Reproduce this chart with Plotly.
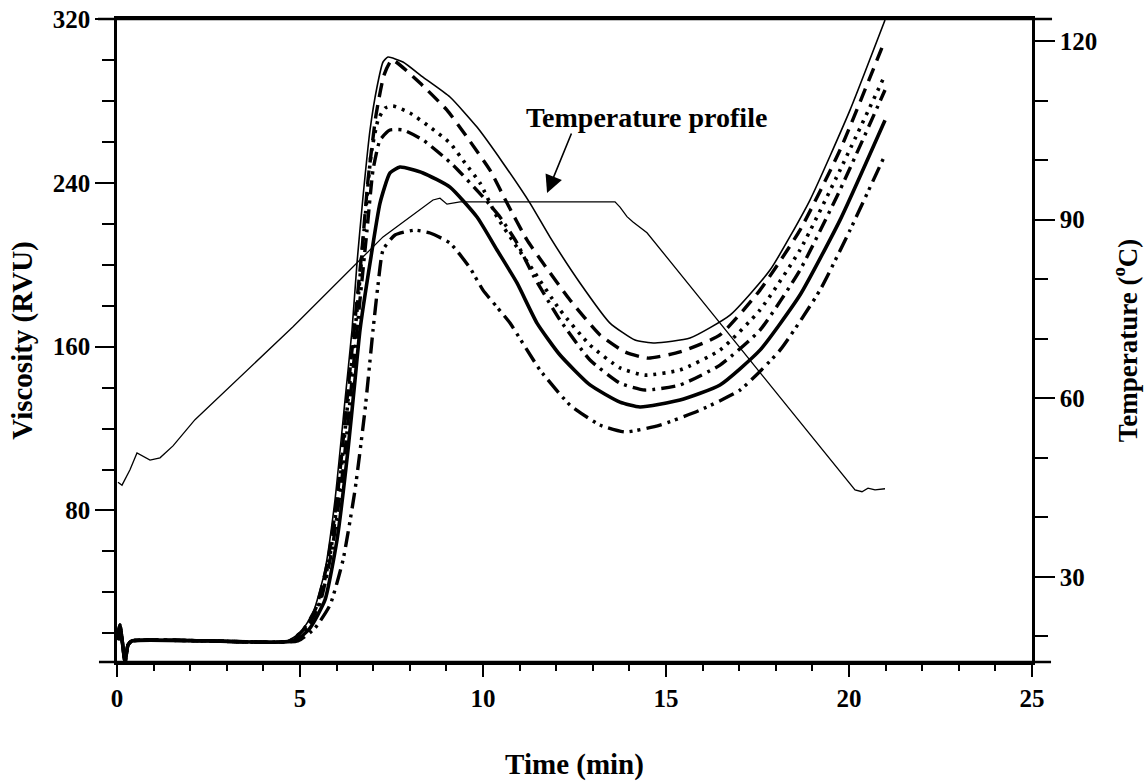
import plotly.graph_objects as go

# ---------------- data ----------------
# common start of every viscosity trace (spike + flat baseline)
base_t = [0.03, 0.08, 0.14, 0.22, 0.30, 0.41, 2.5]
base_v = [16.7, 24.1, 16.7, 6.0, 14.3, 16.3, 16.3]

s1_t = [4.645, 5.0, 5.355, 5.683, 5.956, 6.230, 6.421, 6.557, 6.721, 6.913, 7.104, 7.268, 7.404, 7.814, 8.361, 9.098, 9.836, 10.546, 11.284, 11.831, 12.650, 13.470, 14.153, 14.699, 15.656, 16.749, 17.842, 18.934, 20.027, 20.984]
s1_v = [16.3, 20.2, 29.9, 50.9, 85.1, 133.9, 168.1, 200.8, 233.1, 265.8, 286.8, 299.0, 301.4, 299.0, 291.6, 281.9, 267.2, 249.7, 230.1, 213.5, 191.1, 171.5, 163.2, 161.8, 164.2, 175.4, 197.4, 231.6, 275.5, 319.5]

s2_t = [4.727, 5.082, 5.437, 5.765, 6.038, 6.311, 6.503, 6.694, 6.858, 7.077, 7.295, 7.514, 8.279, 9.016, 9.563, 10.191, 10.656, 11.202, 11.639, 12.377, 13.197, 13.880, 14.508, 15.383, 16.475, 17.568, 18.661, 19.754, 20.984]
s2_v = [16.3, 21.6, 32.4, 55.8, 90.0, 138.8, 173.0, 207.2, 241.3, 273.1, 292.6, 300.0, 288.7, 275.5, 262.3, 246.2, 230.1, 212.1, 200.8, 182.8, 165.7, 157.4, 154.4, 157.4, 165.7, 187.6, 216.9, 256.0, 309.7]

s3_t = [4.727, 5.137, 5.492, 5.820, 6.093, 6.366, 6.585, 6.776, 6.940, 7.131, 7.322, 7.541, 8.005, 8.552, 9.098, 9.508, 9.918, 10.383, 10.929, 11.366, 12.104, 12.923, 13.743, 14.426, 15.383, 16.475, 17.568, 18.661, 19.754, 20.984]
s3_v = [16.3, 22.6, 33.8, 58.2, 94.9, 143.7, 182.8, 221.8, 253.6, 270.6, 276.5, 277.5, 274.1, 267.2, 259.4, 249.7, 239.9, 223.3, 208.6, 197.4, 177.9, 160.8, 149.6, 146.1, 148.6, 158.3, 177.9, 207.2, 246.2, 292.6]

s4_t = [4.781, 5.191, 5.546, 5.874, 6.175, 6.421, 6.639, 6.831, 6.995, 7.186, 7.459, 7.814, 8.361, 9.180, 10.0, 10.464, 10.929, 11.366, 12.104, 12.923, 13.743, 14.426, 15.383, 16.475, 17.568, 18.661, 19.754, 20.984]
s4_v = [16.3, 22.6, 34.8, 60.7, 99.8, 143.7, 182.8, 216.9, 246.2, 260.9, 265.8, 265.8, 260.9, 248.7, 233.1, 223.3, 210.6, 195.0, 173.0, 153.5, 142.2, 138.8, 141.3, 151.0, 168.1, 197.4, 236.5, 285.3]

s5_t = [4.863, 5.273, 5.683, 6.011, 6.311, 6.503, 6.639, 6.913, 7.186, 7.459, 7.732, 8.361, 9.098, 9.836, 10.383, 10.929, 11.475, 12.104, 12.923, 13.743, 14.290, 15.383, 16.475, 17.568, 18.661, 19.754, 20.984]
s5_v = [16.3, 22.6, 36.3, 65.6, 109.5, 143.7, 168.1, 200.8, 230.1, 244.8, 247.7, 244.8, 237.9, 223.3, 207.2, 191.1, 171.5, 155.9, 141.3, 132.9, 130.5, 133.9, 141.3, 158.3, 185.2, 221.8, 270.6]

s6_t = [4.945, 5.410, 5.820, 6.175, 6.503, 6.776, 6.995, 7.131, 7.268, 7.596, 8.142, 8.552, 9.098, 9.645, 10.0, 10.383, 10.738, 11.557, 12.377, 13.197, 13.880, 14.836, 15.929, 17.022, 18.115, 19.208, 20.027, 20.984]
s6_v = [16.3, 22.6, 33.8, 55.8, 90.0, 129.0, 168.1, 190.1, 207.2, 214.5, 216.9, 215.5, 210.6, 198.4, 187.6, 179.3, 171.5, 148.6, 131.5, 121.7, 118.3, 121.7, 129.0, 138.8, 158.3, 187.6, 216.9, 253.6]

temp_t = [0.027, 0.137, 0.355, 0.546, 0.902, 1.175, 1.530, 2.131, 4.809, 7.268, 8.634, 8.825, 9.016, 9.372, 13.607, 13.743, 13.934, 14.098, 14.481, 20.164, 20.355, 20.519, 20.710, 20.984]
temp_c = [45.9, 45.4, 48.0, 50.8, 49.6, 50.0, 52.0, 56.4, 72.0, 87.1, 93.3, 93.6, 92.6, 93.0, 93.0, 92.1, 90.5, 89.6, 87.8, 44.6, 44.3, 44.9, 44.6, 44.8]

x_ticks = [0, 5, 10, 15, 20, 25]
visc_ticks = [80, 160, 240, 320]
temp_ticks = [30, 60, 90, 120]

FONT = "Liberation Serif, Times New Roman, serif"

series = [
    (s1_t, s1_v, dict(width=1.6, dash="solid")),
    (s2_t, s2_v, dict(width=3.4, dash="14px,8px")),
    (s3_t, s3_v, dict(width=3.6, dash="3px,6px")),
    (s4_t, s4_v, dict(width=3.4, dash="14px,6px,3px,6px")),
    (s5_t, s5_v, dict(width=3.6, dash="solid")),
    (s6_t, s6_v, dict(width=3.4, dash="16px,6px,3px,5px,3px,6px")),
]

fig = go.Figure()
for i, (t, v, ln) in enumerate(series):
    fig.add_trace(go.Scatter(
        x=base_t + t, y=base_v + v, mode="lines",
        line=dict(color="black", shape="spline", smoothing=0.5, **ln),
        showlegend=False, hoverinfo="skip"))

fig.add_trace(go.Scatter(
    x=temp_t, y=temp_c, mode="lines", yaxis="y2",
    line=dict(color="black", width=1.3),
    showlegend=False, hoverinfo="skip"))

tickfont = dict(family=FONT, size=25, color="black", weight="bold")
titlefont = dict(family=FONT, size=29, color="black", weight="bold")

fig.update_layout(
    template="none",
    width=1148, height=781,
    margin=dict(l=117, r=116, t=19, b=119, pad=0),
    paper_bgcolor="white", plot_bgcolor="white",
    xaxis=dict(
        range=[0, 25], tickvals=x_ticks, ticks="outside", ticklen=12, tickwidth=2,
        tickcolor="black", showline=True, linecolor="black", linewidth=2.5,
        mirror=True, showgrid=False, zeroline=False, automargin=False,
        tickfont=tickfont,
        minor=dict(dtick=1, tick0=0, ticks="outside", ticklen=6, tickwidth=2, tickcolor="black", showgrid=False),
        title=dict(text="Time (min)", font=titlefont, standoff=44),
    ),
    yaxis=dict(
        range=[6, 320], tickvals=visc_ticks, ticks="outside", ticklen=19, tickwidth=2,
        tickcolor="black", showline=True, linecolor="black", linewidth=2.5,
        showgrid=False, zeroline=False, automargin=False, tickfont=tickfont,
        minor=dict(dtick=20, tick0=0, ticks="outside", ticklen=12, tickwidth=2, tickcolor="black", showgrid=False),
        title=dict(text="Viscosity (RVU)", font=titlefont, standoff=12),
    ),
    yaxis2=dict(
        range=[15.7, 123.7], tickvals=temp_ticks, overlaying="y", side="right",
        ticks="outside", ticklen=20, tickwidth=2, tickcolor="black",
        showline=True, linecolor="black", linewidth=2.5,
        showgrid=False, zeroline=False, automargin=False, tickfont=tickfont,
        minor=dict(dtick=10, tick0=0, ticks="outside", ticklen=13, tickwidth=2, tickcolor="black", showgrid=False),
        title=dict(text="Temperature (<sup>o</sup>C)", font=dict(family=FONT, size=27, color="black", weight="bold"), standoff=22),
    ),
    shapes=[
        dict(type="line", xref="paper", yref="paper", x0=-0.0208, x1=1.0219, y0=1, y1=1,
             line=dict(color="black", width=2.5)),
        dict(type="line", xref="paper", yref="paper", x0=-0.0197, x1=1.0208, y0=0, y1=0,
             line=dict(color="black", width=2.5)),
    ],
    annotations=[
        dict(x=14.48, y=272, xref="x", yref="y", text="Temperature profile",
             showarrow=False, font=dict(family=FONT, size=28, color="black", weight="bold")),
        dict(x=11.75, y=235, xref="x", yref="y", text="", showarrow=True,
             ax=25, ay=-61, arrowhead=2, arrowsize=2.2, arrowwidth=1.6, arrowcolor="black"),
    ],
)

fig.write_html("out.html")
